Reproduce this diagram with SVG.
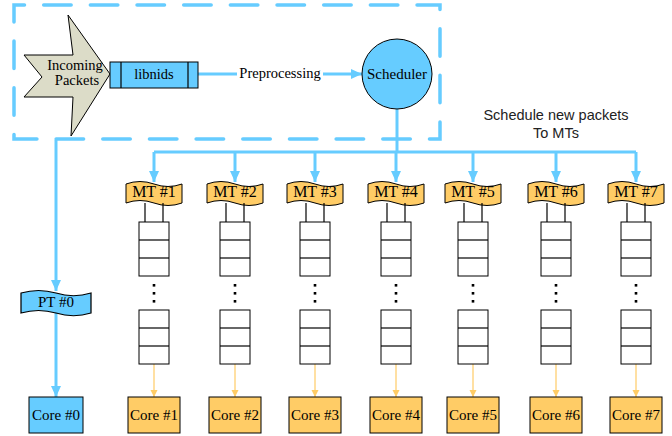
<svg xmlns="http://www.w3.org/2000/svg" width="672" height="436" viewBox="0 0 672 436">
  <defs>
    <style>
      .serif { font-family: "Liberation Serif", "Times New Roman", serif; fill: #000; text-anchor: middle; }
      .sans { font-family: "Liberation Sans", Arial, sans-serif; fill: #222; text-anchor: middle; font-size: 14.5px; }
      .blue { fill: #66CCFF; stroke: #000; stroke-width: 1; }
      .orange { fill: #FFCC66; stroke: #000; stroke-width: 1; }
      .flow { fill: none; stroke: #66CCFF; stroke-width: 3; }
      .thin { fill: none; stroke: #FFCC66; stroke-width: 1.2; }
      .queue { fill: #fff; stroke: #000; stroke-width: 1; }
      .tie { stroke: #000; stroke-width: 1.2; }
      .dot { fill: #000; }
    </style>
    <marker id="arrowBlue" markerUnits="userSpaceOnUse" markerWidth="12" markerHeight="12" refX="11" refY="5" orient="auto">
      <path d="M0,0 L11,5 L0,10 z" fill="#66CCFF"/>
    </marker>
    <marker id="arrowOrange" markerUnits="userSpaceOnUse" markerWidth="8" markerHeight="8" refX="7" refY="3.5" orient="auto">
      <path d="M0,0 L7,3.5 L0,7 z" fill="#FFCC66"/>
    </marker>
    <!-- punched-tape banner, 56 x 21, origin at top-left -->
    <path id="tape" d="M0,2 Q14,-3 28,2 T56,2 L56,21 Q42,26 28,21 T0,21 Z"/>
    <!-- three-slot queue, 30 x 54 -->
    <g id="stack">
      <rect class="queue" x="-15" y="0" width="30" height="54"/>
      <line class="tie" x1="-15" y1="18" x2="15" y2="18"/>
      <line class="tie" x1="-15" y1="36" x2="15" y2="36"/>
    </g>
    <g id="dots">
      <rect class="dot" x="-1.3" y="284" width="2.6" height="2.6"/>
      <rect class="dot" x="-1.3" y="292" width="2.6" height="2.6"/>
      <rect class="dot" x="-1.3" y="300" width="2.6" height="2.6"/>
    </g>
  </defs>

  <rect width="672" height="436" fill="#fff"/>

  <!-- front-end boundary (perimeter 1120 = 24 dash periods) -->
  <rect x="14" y="5" width="426" height="134" fill="none" stroke="#66CCFF" stroke-width="3.5" stroke-dasharray="27.5 19.17" stroke-dashoffset="17" stroke-linecap="round"/>

  <!-- connectors -->
  <g id="connectors">
    <line class="flow" x1="198" y1="74" x2="362" y2="74" marker-end="url(#arrowBlue)"/>
    <line class="flow" x1="397" y1="109" x2="397" y2="152"/>
    <line class="flow" x1="154" y1="152" x2="636" y2="152"/>
    <line class="flow" x1="154" y1="152" x2="154" y2="182" marker-end="url(#arrowBlue)"/>
    <line class="flow" x1="235" y1="152" x2="235" y2="182" marker-end="url(#arrowBlue)"/>
    <line class="flow" x1="315" y1="152" x2="315" y2="182" marker-end="url(#arrowBlue)"/>
    <line class="flow" x1="396" y1="152" x2="396" y2="182" marker-end="url(#arrowBlue)"/>
    <line class="flow" x1="473" y1="152" x2="473" y2="182" marker-end="url(#arrowBlue)"/>
    <line class="flow" x1="556" y1="152" x2="556" y2="182" marker-end="url(#arrowBlue)"/>
    <line class="flow" x1="636" y1="152" x2="636" y2="182" marker-end="url(#arrowBlue)"/>
    <line class="flow" x1="56" y1="140" x2="56" y2="291" marker-end="url(#arrowBlue)"/>
    <line class="flow" x1="56" y1="313" x2="56" y2="397" marker-end="url(#arrowBlue)"/>
    <line class="thin" x1="154" y1="364" x2="154" y2="397" marker-end="url(#arrowOrange)"/>
    <line class="thin" x1="235" y1="364" x2="235" y2="397" marker-end="url(#arrowOrange)"/>
    <line class="thin" x1="315" y1="364" x2="315" y2="397" marker-end="url(#arrowOrange)"/>
    <line class="thin" x1="396" y1="364" x2="396" y2="397" marker-end="url(#arrowOrange)"/>
    <line class="thin" x1="473" y1="364" x2="473" y2="397" marker-end="url(#arrowOrange)"/>
    <line class="thin" x1="556" y1="364" x2="556" y2="397" marker-end="url(#arrowOrange)"/>
    <line class="thin" x1="636" y1="364" x2="636" y2="397" marker-end="url(#arrowOrange)"/>
  </g>

  <g id="incoming">
    <polygon points="24,55 73,55 68,15 110,74 71,136 73,97 24,97 42,77" fill="#DCDCC8" stroke="#000" stroke-width="1"/>
    <text class="serif" x="75" y="70" font-size="14.5">Incoming</text>
    <text class="serif" x="77" y="85" font-size="14.5">Packets</text>
  </g>

  <g id="libnids">
    <rect class="blue" x="110" y="62" width="88" height="26"/>
    <line class="tie" x1="121" y1="62" x2="121" y2="88"/>
    <line class="tie" x1="188" y1="62" x2="188" y2="88"/>
    <text class="serif" x="154" y="79" font-size="14.5">libnids</text>
  </g>

  <g id="preprocessing-label">
    <rect x="237" y="64" width="86" height="18" fill="#fff"/>
    <text class="serif" x="280" y="78" font-size="14.5">Preprocessing</text>
  </g>

  <g id="scheduler">
    <circle class="blue" cx="397" cy="74" r="35"/>
    <text class="serif" x="397" y="79" font-size="15">Scheduler</text>
  </g>

  <g id="schedule-note">
    <text class="sans" x="556" y="120">Schedule new packets</text>
    <text class="sans" x="556" y="138">To MTs</text>
  </g>

  <g id="pt0">
    <use href="#tape" transform="translate(21,291) scale(1.25,1.05)" class="blue"/>
    <text class="serif" x="56" y="307" font-size="15">PT #0</text>
  </g>
  <g id="core0">
    <rect class="blue" x="29" y="397" width="54" height="36"/>
    <text class="serif" x="56" y="420" font-size="15">Core #0</text>
  </g>

  <g id="mt1">
    <use href="#tape" x="126" y="182" class="orange"/>
    <text class="serif" x="154" y="197" font-size="16">MT #1</text>
    <line class="tie" x1="145" y1="203" x2="145" y2="222"/>
    <line class="tie" x1="163" y1="203" x2="163" y2="222"/>
    <use href="#stack" x="154" y="222"/>
    <use href="#dots" x="154"/>
    <use href="#stack" x="154" y="310"/>
  </g>
  <g id="mt2">
    <use href="#tape" x="207" y="182" class="orange"/>
    <text class="serif" x="235" y="197" font-size="16">MT #2</text>
    <line class="tie" x1="226" y1="203" x2="226" y2="222"/>
    <line class="tie" x1="244" y1="203" x2="244" y2="222"/>
    <use href="#stack" x="235" y="222"/>
    <use href="#dots" x="235"/>
    <use href="#stack" x="235" y="310"/>
  </g>
  <g id="mt3">
    <use href="#tape" x="287" y="182" class="orange"/>
    <text class="serif" x="315" y="197" font-size="16">MT #3</text>
    <line class="tie" x1="306" y1="203" x2="306" y2="222"/>
    <line class="tie" x1="324" y1="203" x2="324" y2="222"/>
    <use href="#stack" x="315" y="222"/>
    <use href="#dots" x="315"/>
    <use href="#stack" x="315" y="310"/>
  </g>
  <g id="mt4">
    <use href="#tape" x="368" y="182" class="orange"/>
    <text class="serif" x="396" y="197" font-size="16">MT #4</text>
    <line class="tie" x1="387" y1="203" x2="387" y2="222"/>
    <line class="tie" x1="405" y1="203" x2="405" y2="222"/>
    <use href="#stack" x="396" y="222"/>
    <use href="#dots" x="396"/>
    <use href="#stack" x="396" y="310"/>
  </g>
  <g id="mt5">
    <use href="#tape" x="445" y="182" class="orange"/>
    <text class="serif" x="473" y="197" font-size="16">MT #5</text>
    <line class="tie" x1="464" y1="203" x2="464" y2="222"/>
    <line class="tie" x1="482" y1="203" x2="482" y2="222"/>
    <use href="#stack" x="473" y="222"/>
    <use href="#dots" x="473"/>
    <use href="#stack" x="473" y="310"/>
  </g>
  <g id="mt6">
    <use href="#tape" x="528" y="182" class="orange"/>
    <text class="serif" x="556" y="197" font-size="16">MT #6</text>
    <line class="tie" x1="547" y1="203" x2="547" y2="222"/>
    <line class="tie" x1="565" y1="203" x2="565" y2="222"/>
    <use href="#stack" x="556" y="222"/>
    <use href="#dots" x="556"/>
    <use href="#stack" x="556" y="310"/>
  </g>
  <g id="mt7">
    <use href="#tape" x="608" y="182" class="orange"/>
    <text class="serif" x="636" y="197" font-size="16">MT #7</text>
    <line class="tie" x1="627" y1="203" x2="627" y2="222"/>
    <line class="tie" x1="645" y1="203" x2="645" y2="222"/>
    <use href="#stack" x="636" y="222"/>
    <use href="#dots" x="636"/>
    <use href="#stack" x="636" y="310"/>
  </g>

  <g id="core1"><rect class="orange" x="128" y="397" width="52" height="36"/><text class="serif" x="154" y="420" font-size="15">Core #1</text></g>
  <g id="core2"><rect class="orange" x="209" y="397" width="52" height="36"/><text class="serif" x="235" y="420" font-size="15">Core #2</text></g>
  <g id="core3"><rect class="orange" x="289" y="397" width="52" height="36"/><text class="serif" x="315" y="420" font-size="15">Core #3</text></g>
  <g id="core4"><rect class="orange" x="370" y="397" width="52" height="36"/><text class="serif" x="396" y="420" font-size="15">Core #4</text></g>
  <g id="core5"><rect class="orange" x="447" y="397" width="52" height="36"/><text class="serif" x="473" y="420" font-size="15">Core #5</text></g>
  <g id="core6"><rect class="orange" x="530" y="397" width="52" height="36"/><text class="serif" x="556" y="420" font-size="15">Core #6</text></g>
  <g id="core7"><rect class="orange" x="610" y="397" width="52" height="36"/><text class="serif" x="636" y="420" font-size="15">Core #7</text></g>
</svg>
